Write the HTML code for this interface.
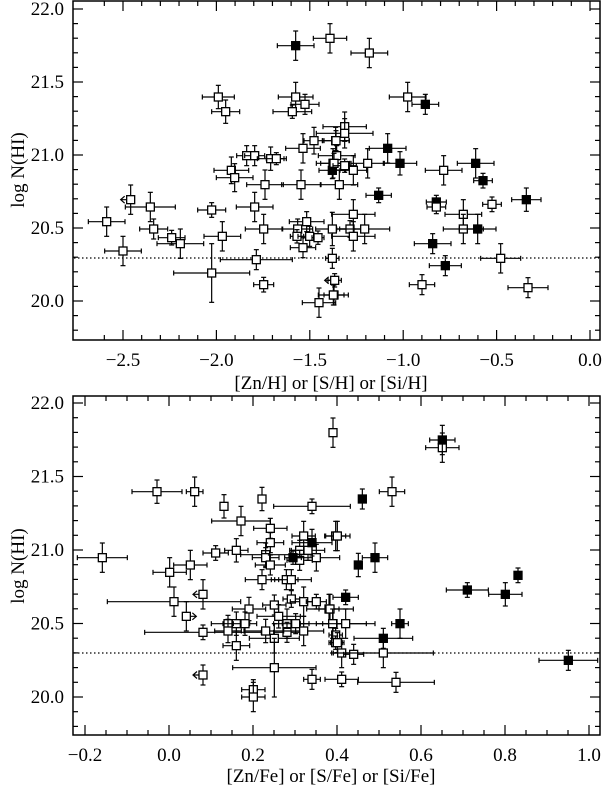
<!DOCTYPE html>
<html><head><meta charset="utf-8"><style>
html,body{margin:0;padding:0;background:#fff;}
svg{display:block;}
text{font-family:"Liberation Serif",serif;fill:#000;}
</style></head><body>
<svg id="s" width="603" height="786" xmlns="http://www.w3.org/2000/svg"></svg>
<script>
const S=document.getElementById('s');let h='';
function L(x1,y1,x2,y2,w,extra){h+=`<line x1="${x1}" y1="${y1}" x2="${x2}" y2="${y2}" stroke="#000" stroke-width="${w||1.2}" ${extra||''}/>`;}
function T(x,y,t,a,extra){h+=`<text x="${x}" y="${y}" font-size="19" text-anchor="${a||'middle'}" ${extra||''}>${t}</text>`;}
function panel(top,bot,yMaj,yPer,xs){
  const l=73,r=600;
  h+=`<rect x="${l}" y="${top}" width="${r-l}" height="${bot-top}" fill="none" stroke="#000" stroke-width="1.5"/>`;
  for(let i=-4;i<=25;i++){const y=yMaj+i*yPer/10; if(y<top+1||y>bot-1)continue;const maj=(i%5==0);const len=maj?10:5;L(l,y,l+len,y);L(r,y,r-len,y);
    if(maj){const v=(22-i/10).toFixed(1);T(l-9,y+6,v,'end');}}
  xs.forEach(t=>{const len=t.maj?10:5;L(t.x,bot,t.x,bot-len);L(t.x,top,t.x,top+len);if(t.lab!==undefined)T(t.x,bot+26,t.lab);});
}
let xs=[];for(let i=-1;i<=30;i++){const x=123+i*18.68;if(x<74||x>599)continue;const maj=i%5==0;const v=-2.5+i*0.1;xs.push({x,maj,lab:maj?(Math.abs(v)<1e-6?'0.0':(v<0?'−':'')+Math.abs(v).toFixed(1)):undefined});}
panel(1,340,9,146,xs);
xs=[];for(let i=-1;i<=26;i++){const x=85+i*21;if(x<74||x>599)continue;const maj=i%4==0;const v=-0.2+i*0.05;xs.push({x,maj,lab:maj?(Math.abs(v)<1e-6?'0.0':(v<0?'−':'')+Math.abs(v).toFixed(1)):undefined});}
panel(396,735,403,147,xs);
T(331,389,'[Zn/H] or [S/H] or [Si/H]');
T(331,782,'[Zn/Fe] or [S/Fe] or [Si/Fe]');
T(0,0,'log N(HI)','middle','transform="translate(24,170) rotate(-90)"');
T(0,0,'log N(HI)','middle','transform="translate(24,566) rotate(-90)"');
L(74,258,599,258,1.2,'stroke-dasharray="1.5,2.5"');
L(74,653,599,653,1.2,'stroke-dasharray="1.5,2.5"');
function pts(ox,oy,arr){arr.forEach(p=>{let [zx,zy,xe,ye,f,a]=p;const x=ox+zx/3,y=oy+zy/3;xe/=3;ye/=3;
  if(xe>0){L(x-xe,y,x+xe,y);L(x-xe,y-2.5,x-xe,y+2.5);L(x+xe,y-2.5,x+xe,y+2.5);}
  if(ye>0){L(x,y-ye,x,y+ye);L(x-2.5,y-ye,x+2.5,y-ye);L(x-2.5,y+ye,x+2.5,y+ye);}
  if(a=='l')h+=`<path d="M${x-6},${y-3.5} L${x-10},${y} L${x-6},${y+3.5} M${x-10},${y} L${x-4},${y}" fill="none" stroke="#000" stroke-width="1.2"/>`;
  if(a=='r')h+=`<path d="M${x+6},${y-3.5} L${x+10},${y} L${x+6},${y+3.5} M${x+10},${y} L${x+4},${y}" fill="none" stroke="#000" stroke-width="1.2"/>`;
  h+=`<rect x="${x-4}" y="${y-4}" width="8" height="8" fill="${f?'#000':'#fff'}" stroke="#000" stroke-width="1.3"/>`;});}
pts(73,0,[[668,137,55,44,1],[771,115,50,44],[436,291,48,35],[458,335,42,35],[668,291,52,44],[696,313,42,30],[658,335,58,20],[723,422,30,40],[690,445,52,44],[788,422,40,40],[521,467,30,30],[545,467,30,30],[593,476,40,35],[610,476,30,18],[475,511,52,40],[485,533,55,42],[576,554,55,44],[684,554,58,44],[780,490,50,44],[173,599,0,44,0,'l'],[232,621,75,44],[416,630,42,22],[545,621,55,44],[101,665,55,44],[242,687,42,30],[296,713,40,22],[322,731,70,44],[448,709,55,44],[572,687,55,44],[674,687,45,30],[672,709,20,20],[701,665,52,30],[710,709,35,30],[735,713,18,20],[690,743,38,30],[778,687,50,50],[150,753,55,44],[550,779,108,30],[416,819,114,88],[572,854,30,22],[738,908,50,44],[778,775,20,30],[785,841,20,20,0,'l'],[783,885,30,30],[778,511,40,25,1]]);
pts(330,0,[[118,159,55,44],[233,291,55,44],[286,313,40,30,1],[44,380,65,44],[44,400,85,44],[18,422,40,30],[173,445,55,44,1],[20,467,55,30],[12,490,40,30],[44,497,35,20],[113,490,50,44],[70,511,40,44],[210,490,50,35,1],[28,554,55,44],[146,586,38,22,1],[341,511,55,44],[437,490,55,44,1],[459,542,28,22,1],[589,599,44,35,1],[319,606,30,20,1],[319,621,28,20],[486,613,28,22],[70,643,65,44],[400,643,55,44],[60,687,40,25],[104,687,75,44],[70,709,65,44],[400,687,60,44],[443,687,55,44,1],[308,731,55,30,1],[512,775,60,44],[346,797,48,30,1],[276,854,38,30],[594,863,60,30],[10,885,45,30]]);
pts(73,396,[[780,110,0,44],[252,287,75,35],[365,287,25,44],[453,331,0,35],[567,309,0,35],[717,331,115,22],[504,375,88,44],[592,397,50,30],[592,440,40,30],[692,420,35,44],[788,420,30,44],[88,485,75,44],[428,471,38,22],[490,463,35,35],[578,476,75,35],[578,485,40,30],[680,463,30,30],[705,463,50,30],[680,493,38,30],[730,485,70,40],[592,507,45,30],[290,529,50,44],[352,507,50,44],[567,551,50,30],[640,551,35,30],[655,551,60,30],[390,595,0,44,0,'l'],[303,617,200,44],[528,639,50,35],[604,627,35,30],[655,609,25,25],[692,617,40,44],[730,617,30,22],[768,639,30,44],[340,661,0,44,0,'r'],[617,661,65,35],[465,683,50,25],[490,683,40,35],[516,683,35,35],[642,683,40,44],[668,683,40,30],[780,683,100,44],[390,709,175,22],[465,705,40,35],[578,705,65,35],[642,709,40,30],[692,705,60,44],[604,727,75,44],[490,749,40,44],[788,717,20,20],[788,740,20,20],[604,815,125,88],[390,837,0,30,0,'l'],[717,850,25,30],[541,881,35,30],[541,903,35,44],[717,440,60,40,1],[660,485,25,20,1]]);
pts(330,396,[[337,155,50,44],[337,132,38,44,1],[186,287,38,44],[97,309,0,30,1],[22,420,38,44],[135,485,38,44,1],[85,507,0,35,1],[412,582,63,22,1],[526,595,50,35,1],[564,538,0,22,1],[47,604,38,22,1],[0,639,70,44],[8,683,30,44],[47,683,88,44],[210,683,25,44,1],[160,727,88,30,1],[22,740,20,30],[35,771,30,44],[71,775,30,30],[160,771,150,44],[715,793,88,30,1],[35,850,50,22],[198,859,115,30]]);
S.innerHTML=h;
</script>
</body></html>
